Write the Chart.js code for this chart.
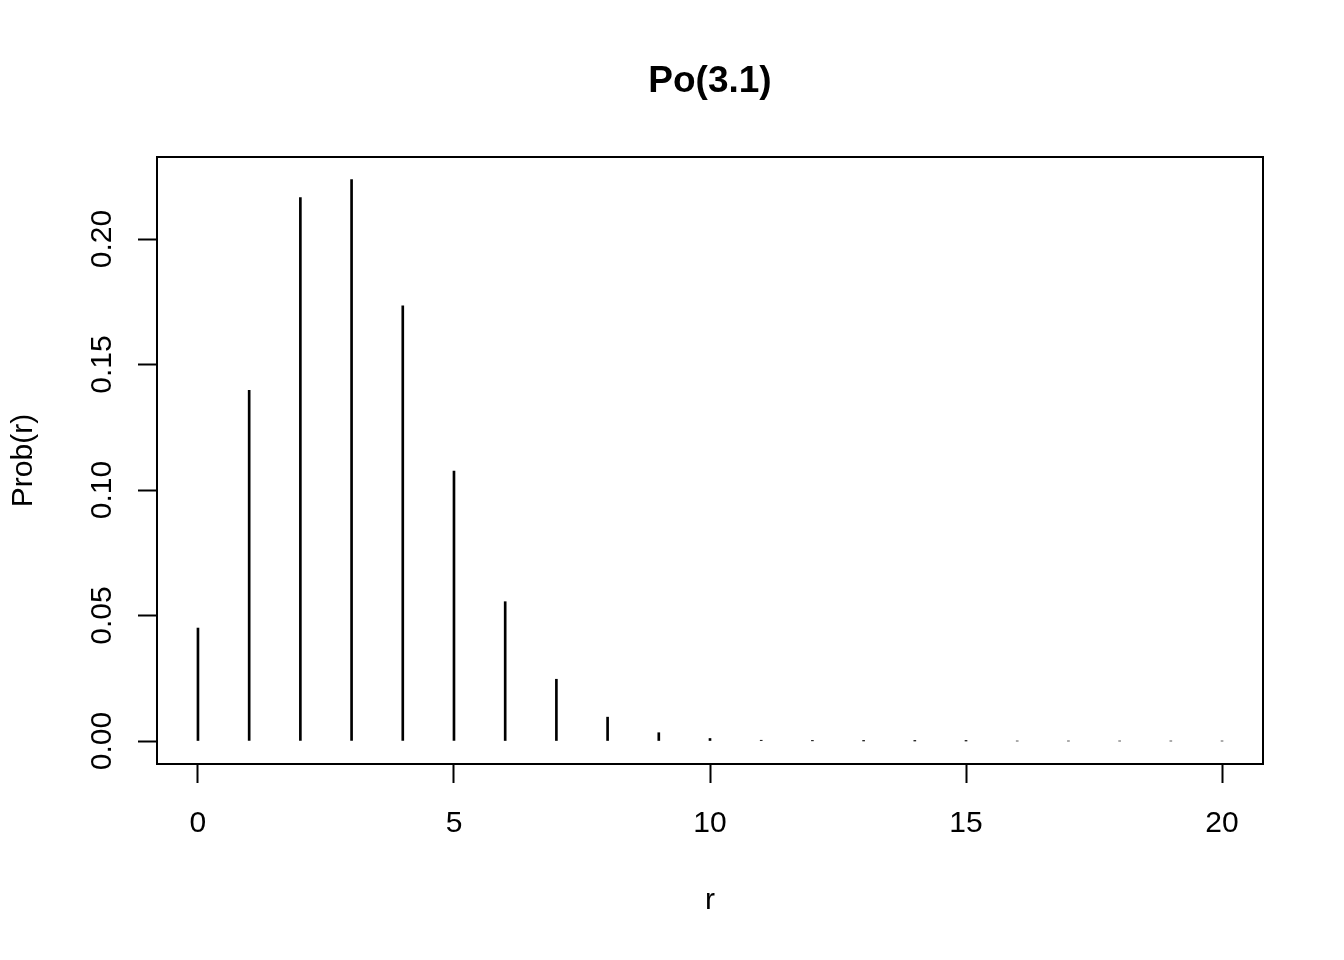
<!DOCTYPE html>
<html>
<head>
<meta charset="utf-8">
<script src="https://cdn.jsdelivr.net/npm/chart.js@4/dist/chart.umd.min.js"></script>
<style>
  body { margin: 0; background: #fff; }
  #wrap { width: 1344px; height: 960px; }
</style>
</head>
<body>
<div id="wrap"><canvas id="chart" width="1344" height="960"></canvas></div>
<script>
// Po(3.1) probabilities
const r = [0, 1, 2, 3, 4, 5, 6, 7, 8, 9, 10, 11, 12, 13, 14, 15, 16, 17, 18, 19, 20];
const prob = [0.0450, 0.1397, 0.2165, 0.2237, 0.1734, 0.1075, 0.0555, 0.0246, 0.0095, 0.0033,
  0.0010, 0.0003, 0.00007, 0.00002, 0.000004, 0.000001, 0, 0, 0, 0, 0];
const xTicks = [0, 5, 10, 15, 20];
const yTicks = [0, 0.05, 0.10, 0.15, 0.20];

const FONT = "'Liberation Sans', Arial, sans-serif";

const boxPlugin = {
  id: 'box',
  afterDraw(chart) {
    const c = chart.ctx, a = chart.chartArea;
    c.save();
    c.strokeStyle = '#000';
    c.lineWidth = 2;
    c.strokeRect(a.left, a.top, a.right - a.left, a.bottom - a.top);
    // y tick labels, rotated like R
    const ys = chart.scales.y;
    c.fillStyle = '#000';
    c.font = '30px ' + FONT;
    c.textAlign = 'center';
    c.textBaseline = 'alphabetic';
    ys.ticks.forEach(t => {
      const py = ys.getPixelForValue(t.value);
      c.save();
      c.translate(111, py);
      c.rotate(-Math.PI / 2);
      c.fillText(t.value.toFixed(2), 0, 0);
      c.restore();
    });
    c.restore();
  }
};

const ctx = document.querySelector('#chart').getContext('2d');
const chart = new Chart(ctx, {
  type: 'bar',
  data: {
    datasets: [{
      data: r.map((v, i) => ({x: v, y: prob[i]})),
      backgroundColor: '#000',
      borderWidth: 0,
      barThickness: 2,
    }]
  },
  options: {
    responsive: false,
    animation: false,
    layout: {padding: {left: 0, right: 81, top: 0, bottom: 0}},
    plugins: {
      legend: {display: false},
      tooltip: {enabled: false},
      title: {
        display: true,
        fullSize: false,
        text: 'Po(3.1)',
        color: '#000',
        font: {family: FONT, size: 37, weight: 'bold', lineHeight: 1.2},
        padding: {top: 59.3, bottom: 53.3}
      }
    },
    scales: {
      x: {
        type: 'linear',
        offset: false,
        min: -0.8,
        max: 20.8,
        afterBuildTicks: s => { s.ticks = xTicks.map(v => ({value: v})); },
        afterFit: s => { s.height = 196; },
        grid: {offset: false, drawOnChartArea: false, drawTicks: true, tickLength: 19, tickWidth: 2, tickColor: '#000'},
        border: {display: false},
        ticks: {color: '#000', font: {family: FONT, size: 30}, padding: 23, maxRotation: 0},
        title: {display: true, text: 'r', color: '#000', font: {family: FONT, size: 30, lineHeight: 1.2}, padding: {top: 0, bottom: 41.3}}
      },
      y: {
        min: -0.009163,
        max: 0.23267,
        afterBuildTicks: s => { s.ticks = yTicks.map(v => ({value: v})); },
        afterFit: s => { s.width = 157; },
        grid: {drawOnChartArea: false, drawTicks: true, tickLength: 19, tickWidth: 2, tickColor: '#000'},
        border: {display: false},
        ticks: {display: false},
        title: {display: true, text: 'Prob(r)', color: '#000', font: {family: FONT, size: 30, lineHeight: 1.2}, padding: {top: 6, bottom: 0}}
      }
    }
  },
  plugins: [boxPlugin]
});
</script>
</body>
</html>
